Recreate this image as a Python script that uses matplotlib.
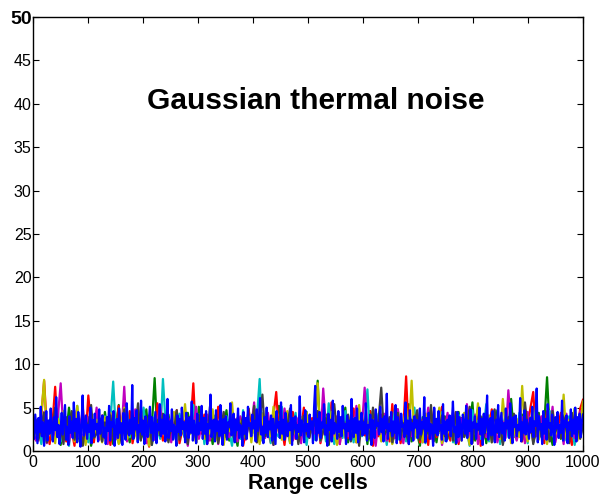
import numpy as np
import matplotlib
matplotlib.use("Agg")
import matplotlib.pyplot as plt

plt.rcParams['font.family'] = ['Liberation Sans', 'DejaVu Sans']

# noise amplitude per range cell (approximate)
blue = [
    3.1, 1.4, 4.2, 2.6, 0.9, 3.8, 2.2, 5.1, 1.7, 3.3, 0.6, 2.9, 4.6, 1.2, 3.5, 2.0, 4.9, 2.7, 1.1, 3.9, 2.4, 6.2, 1.6, 3.0, 0.8,
    2.5, 4.4, 1.9, 3.6, 5.3, 1.3, 2.8, 0.7, 4.0, 2.1, 3.4, 1.5, 5.6, 2.3, 3.7, 1.0, 4.5, 2.9, 0.5, 3.2, 6.4, 1.8, 2.6, 4.1, 1.4,
    3.0, 2.2, 5.0, 0.9, 3.6, 1.7, 4.3, 2.5, 3.1, 1.1, 4.8, 2.0, 3.4, 4.1, 1.6, 2.7, 0.8, 3.9, 2.3, 5.2, 1.2, 3.3, 2.8, 4.6, 0.6,
    2.4, 3.7, 1.5, 4.9, 2.1, 3.2, 0.7, 4.4, 2.6, 1.3, 5.5, 2.9, 1.8, 3.6, 2.0, 7.6, 1.4, 3.8, 2.5, 4.7, 1.0, 3.0, 2.2, 5.8, 1.9,
    3.5, 0.8, 4.0, 2.7, 1.6, 3.3, 5.1, 2.1, 3.9, 1.2, 2.8, 4.5, 0.9, 3.1, 2.4, 5.4, 1.7, 3.6, 2.0, 4.2, 1.1, 2.9, 6.0, 1.5, 3.4,
    2.3, 4.8, 1.3, 3.0, 2.6, 0.6, 4.1, 2.2, 3.7, 1.8, 5.0, 2.5, 3.3, 1.0, 4.4, 2.8, 1.5, 3.9, 2.1, 5.7, 1.2, 3.5, 2.7, 0.9, 4.3,
    1.9, 3.2, 2.4, 5.2, 1.4, 3.8, 2.0, 4.6, 0.8, 3.1, 2.6, 6.5, 1.6, 2.9, 3.6, 1.1, 4.7, 2.3, 3.4, 1.7, 5.3, 2.5, 0.7, 3.7, 2.1,
    4.0, 1.3, 3.3, 2.8, 5.5, 1.8, 2.2, 4.3, 1.0, 3.6, 2.4, 4.9, 1.5, 3.0, 2.7, 0.6, 4.5, 2.0, 3.8, 1.4, 5.1, 2.9, 3.2, 1.7, 4.2,
    2.6, 3.5, 1.1, 4.8, 2.3, 3.1, 6.1, 1.9, 2.8, 0.9, 3.9, 2.1, 5.0, 1.6, 3.4, 2.5, 4.1, 1.2, 3.7, 2.2, 0.8, 4.6, 2.7, 3.3, 1.5,
    5.6, 2.0, 3.6, 1.3, 4.4, 2.9, 1.7, 3.2, 2.4, 5.3, 0.7, 3.8, 2.6, 4.0, 1.4, 3.0, 2.2, 6.3, 1.8, 3.5, 2.8, 1.0, 4.7, 2.3, 3.1,
    1.6, 4.2, 2.5, 3.4, 0.9, 5.0, 7.5, 1.2, 3.7, 2.1, 4.5, 1.5, 3.3, 2.7, 5.4, 1.9, 3.0, 0.6, 4.3, 2.4, 3.6, 1.1, 5.8, 2.0, 3.2,
    2.9, 1.4, 4.6, 2.2, 3.9, 1.7, 5.2, 2.6, 3.1, 0.8, 4.1, 2.3, 3.5, 1.3, 6.0, 2.8, 1.6, 3.8, 2.1, 4.9, 1.0, 3.4, 2.5, 4.4, 1.8,
    3.3, 2.0, 5.5, 1.2, 3.0, 2.7, 4.2, 0.7, 3.6, 2.4, 1.5, 4.8, 2.9, 3.2, 1.9, 5.1, 2.2, 3.7, 1.1, 4.0, 2.6, 6.6, 1.4, 3.1, 2.3,
    4.5, 1.7, 3.4, 2.1, 5.3, 0.9, 3.9, 2.5, 1.3, 4.3, 2.8, 3.0, 1.6, 5.6, 2.0, 3.5, 0.8, 4.7, 2.4, 3.2, 1.2, 4.0, 2.7, 3.6, 1.5,
    2.2, 4.9, 1.9, 3.3, 2.6, 6.2, 1.0, 3.8, 2.3, 4.4, 1.4, 3.1, 2.9, 0.6, 5.0, 2.1, 3.7, 1.8, 4.6, 2.5, 3.0, 1.3, 5.4, 2.0, 3.4,
    1.1, 3.6, 2.4, 4.1, 1.7, 3.2, 5.7, 2.2, 2.8, 0.9, 4.5, 1.6, 3.9, 2.6, 1.2, 4.2, 3.0, 2.0, 5.2, 1.5, 3.5, 2.3, 4.8, 0.8, 3.3,
    2.7, 4.0, 1.4, 3.1, 2.5, 5.0, 1.9, 3.7, 0.7, 4.3, 2.1, 3.4, 6.4, 1.3, 2.9, 3.8, 1.8, 4.6, 2.4, 1.0, 3.6, 2.2, 5.3, 1.6, 3.0,
    4.4, 2.0, 3.2, 1.2, 4.9, 2.6, 3.5, 1.5, 5.5, 2.3, 0.9, 3.9, 2.8, 4.1, 1.7, 3.0, 2.4, 6.1, 1.1, 3.3, 2.1, 4.7, 1.9, 3.6, 2.5,
    1.4, 3.8, 2.2, 5.1, 1.6, 3.4, 2.9, 7.2, 1.0, 4.0, 2.5, 3.1, 0.8, 4.6, 2.0, 3.7, 1.3, 5.4, 2.7, 3.2, 1.8, 4.2, 2.3, 0.7, 3.9,
    2.6, 4.5, 1.5, 3.0, 2.1, 5.8, 1.2, 3.5, 2.8, 4.1, 0.9, 3.3, 2.4, 4.8, 1.7, 3.6, 2.0, 5.0, 1.1, 3.9, 2.5, 4.3, 1.6, 3.4, 4.2,
]

red = [
    2.1, 3.4, 1.2, 4.0, 8.1, 2.6, 0.8, 3.1, 7.4, 1.7, 2.9, 4.4, 1.1, 3.6, 2.3, 0.6, 3.9, 2.0, 5.0, 1.4, 6.4, 2.7, 1.0, 3.3, 2.2,
    4.1, 1.5, 2.8, 0.7, 3.5, 2.4, 5.2, 1.3, 3.0, 2.0, 4.6, 0.9, 2.5, 3.8, 1.6, 4.3, 2.2, 0.5, 3.2, 1.9, 5.5, 2.6, 1.2, 3.7, 2.3,
    1.8, 3.1, 4.7, 0.9, 2.4, 3.5, 1.4, 2.9, 7.8, 1.1, 3.3, 2.0, 4.2, 0.8, 2.7, 3.6, 1.5, 5.1, 2.2, 1.0, 3.9, 2.5, 4.4, 1.3, 2.8,
    3.4, 0.6, 2.1, 4.8, 1.7, 3.0, 2.6, 5.3, 1.2, 3.7, 2.3, 1.0, 4.1, 6.8, 1.9, 2.7, 0.7, 3.5, 2.0, 4.5, 1.4, 3.2, 2.5, 5.0, 1.1,
    2.9, 3.8, 1.6, 4.3, 0.9, 2.4, 3.6, 1.3, 5.6, 2.1, 3.1, 0.8, 4.0, 2.6, 1.5, 3.3, 4.9, 1.0, 2.8, 3.7, 1.8, 2.3, 4.6, 0.6, 3.0,
    1.7, 4.2, 2.5, 3.4, 1.1, 5.4, 2.0, 3.9, 0.9, 2.7, 8.6, 1.4, 3.2, 2.2, 4.4, 1.0, 3.6, 2.9, 0.7, 4.7, 2.3, 1.6, 3.5, 5.1, 2.0,
    3.3, 1.2, 4.5, 2.4, 0.8, 3.8, 2.1, 5.2, 1.5, 3.0, 2.6, 4.1, 0.6, 3.4, 1.9, 2.8, 4.8, 1.3, 3.6, 2.2, 1.0, 4.3, 2.7, 3.1, 1.6,
    2.5, 4.0, 1.1, 3.5, 2.9, 5.0, 6.8, 1.7, 2.3, 3.9, 0.9, 4.6, 2.0, 3.2, 1.4, 2.8, 4.4, 1.2, 3.7, 2.1, 0.7, 3.4, 2.6, 4.9, 5.9,
]

green = [
    3.0, 1.6, 2.4, 4.1, 0.9, 3.5, 2.2, 1.3, 4.6, 2.8, 0.7, 3.3, 1.9, 5.0, 2.5, 3.8, 1.1, 2.7, 4.3, 1.5, 3.1, 0.6, 2.0, 3.9, 2.6,
    1.2, 4.5, 2.3, 3.2, 0.8, 2.9, 5.3, 1.7, 3.6, 2.1, 1.0, 4.0, 2.6, 3.4, 1.4, 2.2, 4.8, 0.9, 3.0, 8.4, 1.8, 2.5, 3.7, 1.3, 4.2,
    2.0, 3.1, 0.7, 3.9, 2.4, 1.5, 4.4, 2.8, 3.3, 1.0, 5.1, 2.3, 1.6, 3.6, 2.7, 0.8, 4.1, 1.9, 3.0, 2.5, 4.7, 1.2, 3.4, 2.1, 0.6,
    3.7, 2.6, 1.4, 4.9, 2.0, 3.2, 1.1, 2.8, 4.3, 1.7, 3.5, 2.2, 0.9, 3.9, 5.2, 1.5, 2.4, 3.1, 1.0, 4.0, 2.7, 1.3, 3.6, 2.1, 4.5,
    1.8, 2.9, 3.4, 8.1, 1.2, 2.5, 4.2, 0.7, 3.0, 2.2, 1.6, 3.8, 2.6, 5.0, 1.0, 3.3, 2.0, 4.4, 1.4, 2.8, 3.5, 0.8, 4.6, 2.3, 1.9,
    3.2, 4.1, 1.3, 2.7, 3.6, 0.9, 2.1, 4.8, 1.7, 3.0, 2.4, 5.4, 1.1, 3.5, 2.0, 0.6, 3.9, 2.5, 1.5, 4.3, 2.9, 1.0, 3.3, 2.2, 4.0,
    1.4, 3.7, 2.3, 0.8, 4.5, 2.0, 3.1, 1.6, 2.6, 5.6, 1.2, 3.4, 2.1, 4.0, 0.9, 2.8, 3.5, 1.5, 4.7, 2.4, 1.1, 3.0, 2.7, 6.0, 1.8,
    3.3, 2.0, 4.2, 1.3, 2.9, 3.8, 1.0, 2.5, 4.4, 1.7, 3.1, 8.5, 2.2, 0.7, 3.6, 2.6, 1.4, 4.1, 2.0, 3.2, 1.2, 4.9, 2.8, 1.6, 3.4,
]

cyan = [
    1.9, 3.3, 2.5, 0.8, 4.2, 2.1, 3.6, 1.4, 2.9, 4.8, 1.1, 3.0, 2.3, 0.6, 3.7, 2.6, 5.2, 1.5, 2.8, 3.4, 1.0, 4.4, 2.2, 3.1, 1.7,
    2.7, 4.0, 1.3, 3.5, 8.0, 2.0, 0.9, 3.2, 2.4, 4.6, 1.6, 2.9, 3.8, 1.2, 2.5, 5.0, 2.1, 3.3, 0.7, 4.1, 2.6, 1.4, 8.3, 3.0, 1.8,
    3.6, 2.2, 1.0, 4.3, 2.8, 1.5, 3.4, 2.0, 5.3, 1.3, 2.6, 3.9, 0.8, 3.1, 2.4, 4.5, 1.7, 2.9, 3.5, 1.1, 4.0, 2.3, 0.6, 3.2, 2.7,
    1.4, 4.7, 2.1, 3.0, 1.8, 2.5, 3.7, 8.3, 1.2, 2.8, 4.2, 0.9, 3.3, 2.0, 1.6, 5.1, 2.4, 3.6, 1.0, 2.9, 4.4, 1.5, 3.1, 2.2, 0.7,
    3.8, 2.6, 1.3, 4.1, 2.0, 3.4, 1.1, 5.5, 2.3, 0.8, 3.0, 2.7, 1.5, 4.6, 2.1, 3.2, 1.0, 3.9, 2.5, 1.7, 2.8, 7.1, 1.2, 3.5, 2.2,
    4.3, 1.6, 2.9, 0.7, 3.6, 2.4, 4.9, 1.3, 3.1, 2.0, 1.1, 3.8, 2.6, 5.0, 1.5, 2.2, 3.4, 0.9, 4.0, 2.7, 1.8, 3.3, 2.1, 4.5, 1.2,
    2.5, 3.7, 1.0, 2.8, 4.2, 1.7, 3.0, 2.3, 0.6, 4.7, 2.0, 3.5, 1.4, 2.6, 5.4, 1.1, 3.2, 2.4, 3.9, 0.8, 2.9, 4.1, 1.6, 3.3, 2.1,
    1.3, 4.4, 2.7, 3.1, 0.9, 3.6, 2.2, 5.1, 1.5, 2.8, 3.4, 1.0, 4.6, 2.3, 3.0, 1.7, 2.5, 3.8, 1.2, 4.0, 2.6, 0.7, 3.3, 2.0, 4.3,
]

magenta = [
    2.6, 1.2, 3.8, 2.0, 4.5, 0.9, 3.1, 2.4, 1.6, 4.0, 7.8, 2.2, 3.3, 1.0, 2.7, 4.6, 1.5, 3.5, 0.7, 2.9, 3.9, 1.8, 2.3, 5.0, 1.3,
    3.4, 2.1, 0.8, 4.3, 2.6, 1.4, 3.7, 2.0, 7.4, 1.1, 3.0, 2.5, 4.8, 1.6, 2.2, 3.6, 0.9, 4.1, 2.8, 1.3, 3.2, 5.3, 1.9, 2.4, 3.8,
    1.0, 2.9, 4.4, 1.7, 3.3, 2.3, 0.6, 3.9, 2.7, 5.1, 1.4, 3.0, 2.1, 4.2, 1.2, 2.6, 3.5, 0.8, 4.7, 2.0, 3.1, 1.6, 2.5, 3.7, 1.1,
    4.0, 2.4, 1.3, 3.2, 2.8, 5.6, 1.0, 2.2, 3.6, 1.5, 4.4, 2.0, 0.7, 3.4, 2.9, 1.8, 4.9, 2.3, 3.0, 1.2, 2.6, 3.8, 0.9, 4.1, 2.5,
    1.6, 3.3, 2.0, 4.6, 1.1, 7.2, 2.7, 3.5, 1.4, 2.2, 4.0, 0.8, 3.1, 2.5, 1.7, 3.9, 2.1, 5.2, 1.3, 2.8, 7.3, 1.9, 3.4, 2.3, 0.6,
    3.6, 2.0, 4.3, 1.2, 2.7, 3.1, 1.5, 4.8, 2.4, 0.9, 3.5, 2.2, 1.7, 4.1, 2.9, 3.3, 1.0, 2.6, 5.0, 1.4, 3.0, 2.1, 3.8, 0.7, 2.5,
    4.4, 1.8, 3.2, 2.3, 1.1, 3.7, 2.6, 5.4, 1.3, 2.0, 4.2, 0.8, 3.0, 2.4, 1.6, 3.6, 2.9, 4.7, 1.0, 2.2, 3.4, 1.5, 7.0, 2.7, 3.1,
    1.2, 2.5, 3.9, 0.9, 4.5, 2.1, 3.3, 1.7, 2.8, 4.0, 1.4, 3.6, 2.3, 5.1, 1.0, 2.6, 3.2, 0.8, 4.3, 2.0, 3.7, 1.5, 2.9, 4.6, 3.2,
]

yellow = [
    3.5, 1.8, 2.6, 4.2, 8.2, 1.3, 3.0, 2.2, 0.9, 3.7, 2.5, 4.6, 1.6, 2.9, 3.4, 1.1, 5.2, 2.0, 3.3, 0.7, 2.8, 4.0, 1.5, 3.6, 2.4,
    1.0, 3.9, 2.3, 4.4, 1.7, 2.7, 0.8, 3.2, 5.0, 1.4, 2.5, 3.8, 2.0, 1.2, 4.7, 2.9, 3.4, 0.6, 2.2, 3.6, 1.9, 4.1, 2.6, 1.3, 3.1,
    2.7, 4.5, 1.1, 3.0, 2.4, 5.4, 1.6, 2.1, 3.5, 0.9, 4.2, 2.8, 1.4, 3.3, 2.0, 4.8, 1.2, 2.6, 3.7, 0.7, 3.1, 2.3, 5.6, 1.8, 2.9,
    3.4, 1.5, 2.2, 4.0, 1.0, 3.6, 2.5, 0.8, 4.3, 2.1, 3.0, 1.7, 5.1, 2.6, 3.2, 1.3, 2.8, 4.6, 0.9, 3.5, 2.0, 1.4, 3.9, 2.4, 4.4,
    1.9, 2.7, 3.3, 7.8, 1.2, 2.4, 3.8, 1.6, 4.5, 2.2, 0.7, 3.1, 2.9, 1.5, 4.1, 2.3, 3.6, 1.0, 5.3, 2.0, 2.8, 3.4, 1.3, 4.7, 2.5,
    3.0, 1.1, 2.6, 4.2, 2.1, 0.8, 3.7, 2.4, 1.7, 3.2, 4.9, 2.0, 8.1, 1.4, 2.9, 3.5, 1.0, 4.3, 2.2, 3.1, 1.6, 2.7, 5.0, 0.9, 3.4,
    2.1, 4.0, 1.5, 2.8, 3.6, 1.2, 4.4, 2.3, 0.7, 3.3, 2.6, 5.5, 1.8, 3.0, 2.2, 4.1, 1.0, 2.5, 3.8, 1.4, 6.0, 2.7, 3.2, 0.9, 2.0,
    3.7, 1.6, 7.5, 2.4, 1.1, 3.9, 2.2, 4.5, 1.3, 2.9, 3.4, 0.8, 2.6, 4.2, 1.9, 3.1, 2.0, 6.5, 1.5, 3.6, 2.3, 4.8, 1.2, 2.8, 5.7,
]

gray = [
    2.2, 3.6, 1.4, 2.9, 4.4, 1.0, 3.2, 2.5, 5.0, 1.7, 2.8, 0.8, 3.9, 2.1, 4.6, 1.3, 3.0, 2.4, 0.6, 3.5, 2.7, 5.3, 1.5, 2.0, 3.8,
    1.1, 3.3, 2.6, 4.1, 1.6, 2.3, 3.7, 0.9, 4.8, 2.0, 3.1, 1.4, 2.7, 5.5, 1.2, 3.4, 2.2, 4.0, 0.7, 2.9, 3.6, 1.8, 4.3, 2.5, 1.0,
    3.0, 2.4, 4.7, 1.3, 3.5, 2.1, 0.8, 3.9, 2.8, 1.5, 4.2, 2.6, 3.3, 1.1, 5.1, 2.0, 3.7, 0.9, 2.5, 4.5, 1.6, 3.1, 2.3, 1.2, 3.8,
    2.7, 4.0, 1.4, 3.2, 2.0, 5.2, 1.0, 3.6, 6.5, 1.7, 2.4, 3.0, 0.7, 4.3, 2.2, 3.5, 1.3, 2.8, 4.9, 1.9, 3.3, 0.8, 2.6, 4.1, 2.1,
    1.5, 3.4, 2.9, 4.6, 1.2, 2.3, 3.8, 0.9, 3.1, 5.4, 2.0, 1.6, 3.7, 2.5, 4.2, 1.1, 2.7, 3.3, 0.6, 4.0, 2.2, 3.0, 1.4, 5.0, 2.6,
    3.5, 7.3, 1.8, 2.4, 3.9, 1.0, 2.8, 4.4, 1.5, 3.2, 2.1, 0.8, 3.6, 2.9, 4.7, 1.3, 2.5, 3.1, 2.0, 5.3, 1.1, 3.4, 2.3, 4.1, 1.7,
    2.6, 3.8, 1.2, 4.5, 2.2, 3.0, 1.6, 2.7, 5.1, 0.9, 3.3, 2.4, 4.0, 1.4, 2.9, 3.6, 1.0, 4.8, 2.1, 3.2, 0.7, 2.5, 3.9, 1.8, 4.3,
    2.0, 3.1, 1.3, 5.6, 2.6, 3.5, 0.8, 2.3, 4.2, 1.6, 3.7, 2.8, 1.1, 4.6, 2.2, 3.0, 1.5, 3.9, 2.4, 0.9, 4.4, 2.7, 3.3, 1.4, 3.0,
]

# drawing order: blue ends up on top
series = [
    (green, (0, 0.5, 0)),
    (red, (1, 0, 0)),
    (cyan, (0, 0.75, 0.75)),
    (magenta, (0.75, 0, 0.75)),
    (yellow, (0.75, 0.75, 0)),
    (gray, (0.25, 0.25, 0.25)),
    (blue, (0, 0, 1)),
]

fig = plt.figure(figsize=(6.01, 4.96), dpi=100)
ax = fig.add_axes([0.055, 0.0907, 0.915, 0.875])

for vals, col in series:
    x = np.linspace(0, 1000, len(vals))
    ax.plot(x, vals, color=col, lw=1.6)

ax.set_xlim(0, 1000)
ax.set_ylim(0, 50)
ax.set_xticks(np.arange(0, 1001, 100))
ax.set_yticks(np.arange(0, 51, 5))
ax.tick_params(direction='in', top=True, right=True, length=4.5, width=0.8,
               labelsize=11.5)
ax.tick_params(axis='y', pad=1)
ax.tick_params(axis='x', pad=3)
for lab in ax.get_yticklabels():
    if lab.get_text() == '50':
        lab.set_fontweight('bold')
        lab.set_fontsize(14)
for s in ax.spines.values():
    s.set_linewidth(1.0)

ax.text(514, 39.4, 'Gaussian thermal noise', ha='center', va='baseline',
        fontsize=21.5, fontweight='bold')
ax.set_xlabel('Range cells', fontsize=15.5, fontweight='bold', labelpad=2)

fig.savefig('out.png', dpi=100)
